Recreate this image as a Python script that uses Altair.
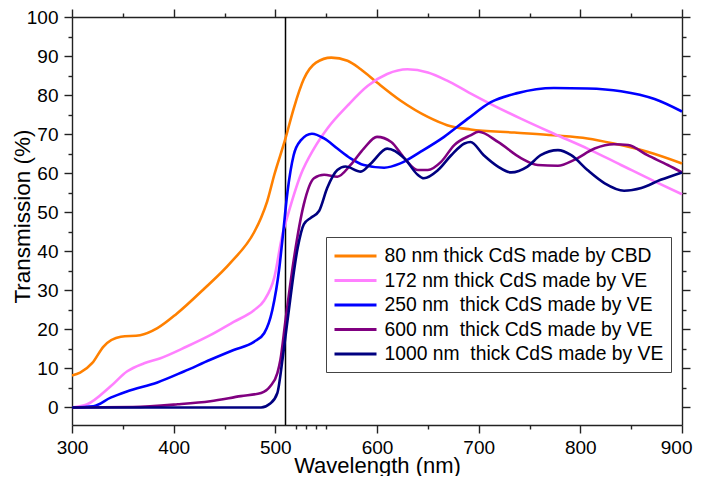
import altair as alt
import pandas as pd

# ---- data ----
orange_wl = [300, 308, 320, 331, 348, 367, 384, 403, 430, 456, 479, 486, 492, 499, 510, 518, 528, 540, 555, 571, 584, 600, 623, 650, 669, 692, 735, 774, 807, 833, 866, 900]
orange_t = [8.2, 8.9, 11.4, 15.6, 18.1, 18.5, 20.3, 24.0, 30.4, 37.1, 44.8, 48.6, 52.8, 59.6, 68.9, 76.5, 84.1, 88.3, 89.6, 88.8, 86.6, 83.2, 78.6, 74.4, 72.3, 71.2, 70.4, 69.7, 68.9, 67.6, 65.5, 62.5]

pink_wl = [300, 315, 338, 354, 371, 387, 413, 436, 459, 479, 489, 499, 507, 512, 525, 538, 551, 571, 591, 610, 630, 650, 669, 690, 712, 742, 774, 807, 840, 873, 900]
pink_t = [0.0, 0.8, 5.4, 9.2, 11.3, 12.6, 15.6, 18.5, 21.9, 24.9, 27.4, 33.3, 44.3, 49.0, 59.6, 66.3, 71.4, 77.3, 82.4, 85.4, 86.6, 85.8, 83.7, 80.7, 77.7, 73.9, 70.1, 66.3, 62.1, 57.9, 54.6]

blue_wl = [300, 321, 338, 354, 384, 410, 436, 459, 479, 489, 497, 504, 507, 512, 518, 525, 536, 548, 561, 574, 587, 607, 623, 643, 666, 689, 712, 738, 774, 807, 840, 873, 900]
blue_t = [0.0, 0.3, 2.5, 4.1, 6.4, 9.2, 12.2, 14.7, 16.8, 19.0, 24.9, 35.9, 43.0, 55.3, 64.6, 68.4, 70.1, 68.9, 66.3, 63.8, 62.1, 61.4, 62.5, 65.5, 69.3, 73.9, 78.2, 80.5, 81.8, 81.7, 81.0, 79.0, 75.8]

purple_wl = [300, 360, 404, 436, 466, 486, 495, 502, 505, 510, 518, 528, 538, 548, 561, 574, 587, 600, 614, 627, 640, 650, 663, 676, 692, 700, 719, 742, 758, 778, 794, 814, 833, 847, 866, 886, 900]
purple_t = [0.0, 0.1, 0.8, 1.6, 2.9, 3.7, 5.4, 8.8, 12.2, 22.3, 37.6, 52.0, 58.7, 59.6, 59.1, 62.1, 66.3, 69.3, 68.0, 63.8, 60.8, 60.8, 62.9, 67.2, 69.7, 70.6, 68.0, 63.8, 62.1, 61.9, 63.4, 66.3, 67.4, 67.2, 64.6, 62.1, 60.2]

navy_wl = [300, 400, 486, 495, 502, 507, 512, 522, 528, 535, 543, 551, 561, 569, 584, 594, 610, 627, 640, 646, 660, 673, 686, 692, 705, 719, 732, 748, 761, 778, 791, 807, 824, 843, 860, 879, 900]
navy_t = [0.0, 0.0, 0.0, 1.0, 3.7, 12.2, 22.3, 40.9, 46.9, 48.6, 50.3, 56.2, 60.8, 61.7, 60.4, 62.5, 66.3, 63.8, 59.6, 58.7, 60.8, 64.6, 67.6, 68.0, 64.6, 61.7, 60.2, 61.7, 64.6, 65.9, 64.6, 60.8, 57.4, 55.5, 56.2, 58.3, 60.2]

series_names = [
    "80 nm thick CdS made by CBD",
    "172 nm thick CdS made by VE",
    "250 nm\u00a0 thick CdS made by VE",
    "600 nm\u00a0 thick CdS made by VE",
    "1000 nm\u00a0 thick CdS made by VE",
]
series_colors = ["#FF8000", "#FF80FF", "#0000FF", "#800080", "#000080"]

x_major = [300, 400, 500, 600, 700, 800, 900]
x_minor = [350, 450, 520, 530, 540, 550, 650, 750, 850]
x_minor_top = [350, 450, 550, 650, 750, 850]
y_major = [0, 10, 20, 30, 40, 50, 60, 70, 80, 90, 100]
y_minor = [5, 15, 25, 35, 45, 55, 65, 75, 85, 95]
cut_wavelength = [510]
x_domain = [300, 900]
y_domain = [-4.5, 100]

rows = []
for name, wls, ts in zip(series_names,
                         [orange_wl, pink_wl, blue_wl, purple_wl, navy_wl],
                         [orange_t, pink_t, blue_t, purple_t, navy_t]):
    for i, (w, t) in enumerate(zip(wls, ts)):
        rows.append({"wl": w, "T": t, "series": name, "order": i})
df = pd.DataFrame(rows)

FONT = "Liberation Sans"
W, H = 610, 408

xs = alt.Scale(domain=x_domain, nice=False, zero=False, padding=0)
ys = alt.Scale(domain=y_domain, nice=False, zero=False, padding=0)

lines = alt.Chart(df).mark_line(strokeWidth=2.6, interpolate="monotone").encode(
    x=alt.X("wl:Q", scale=xs,
            axis=alt.Axis(values=x_major[:-1], orient="bottom", title="Wavelength (nm)",
                          tickSize=8, labelPadding=5, labelFlush=False, titleY=47,
                          titleBaseline="alphabetic", titleFontSize=22)),
    y=alt.Y("T:Q", scale=ys,
            axis=alt.Axis(values=y_major, orient="left", title="Transmission (%)",
                          tickSize=8, labelPadding=6, labelFlush=False,
                          titleX=-50, titleY=199,
                          titleAngle=-90, titleBaseline="middle", titleAlign="center",
                          titleFontSize=22.5)),
    color=alt.Color("series:N",
                    scale=alt.Scale(domain=series_names, range=series_colors),
                    legend=alt.Legend(title=None, orient="none", legendX=254, legendY=220,
                                      symbolType="M-1,0H3", symbolSize=441,
                                      symbolStrokeWidth=3,
                                      labelFontSize=19.3,
                                      labelFont=FONT, labelLimit=600, labelOffset=27.6,
                                      strokeColor="#444444", padding=7, rowPadding=1.5,
                                      fillColor="white", labelColor="black")),
    order="order:Q",
)

dummy = pd.DataFrame({"wl": x_domain, "T": [0, 0]})


def axis_layer(xo, yo, xv, yv, size, domain, xlabels=False):
    return alt.Chart(dummy).mark_point(opacity=0).encode(
        x=alt.X("wl:Q", scale=xs,
                axis=alt.Axis(values=xv, orient=xo, labels=xlabels, title=None,
                              tickSize=size, domain=domain, labelFlush=xlabels,
                              labelFlushOffset=10, labelPadding=5)),
        y=alt.Y("T:Q", scale=ys,
                axis=alt.Axis(values=yv, orient=yo, labels=False, title=None,
                              tickSize=size, domain=domain)),
    )


minor_lb = axis_layer("bottom", "left", x_minor, y_minor, 4, False)
end_lb = axis_layer("bottom", "left", x_major[-1:], [], 8, False, True)
major_tr = axis_layer("top", "right", x_major, y_major, 8, True)
minor_tr = axis_layer("top", "right", x_minor_top, y_minor, 4, False)

vline = alt.Chart(pd.DataFrame({"wl": cut_wavelength})).mark_rule(
    color="black", strokeWidth=1.5).encode(x=alt.X("wl:Q", scale=xs, axis=None))

chart = alt.layer(vline, lines, minor_lb, end_lb, major_tr, minor_tr).resolve_axis(
    x="independent", y="independent"
).properties(
    width=W, height=H,
    autosize=alt.AutoSizeParams(type="none"),
    padding={"left": 64, "top": 9, "right": 11, "bottom": 51},
).configure_axis(
    labelFont=FONT, titleFont=FONT, labelFontSize=19, titleFontSize=22,
    labelColor="black", titleColor="black", tickColor="#222222", domainColor="#222222",
    domainWidth=1.4, tickWidth=1.4, grid=False, titleFontWeight="normal",
).configure_view(stroke=None)

chart.save("out.html", embed_options={"renderer": "svg", "actions": False})
